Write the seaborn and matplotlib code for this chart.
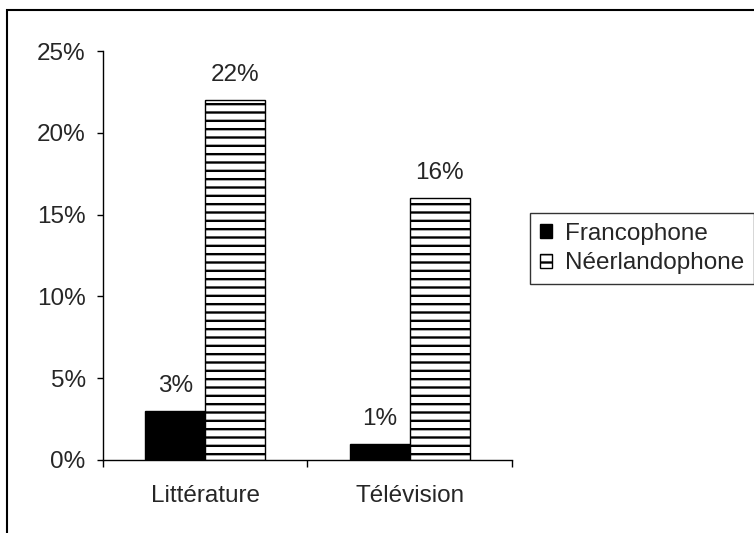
import matplotlib
matplotlib.use("Agg")
import matplotlib.pyplot as plt
import matplotlib.patches as mpatches
from matplotlib.ticker import PercentFormatter, FixedLocator
import pandas as pd
import seaborn as sns

categories = ["Littérature", "Télévision"]
groups = ["Francophone", "Néerlandophone"]
francophone = [3, 1]
neerlandophone = [22, 16]

df = pd.DataFrame({
    "categorie": categories * 2,
    "groupe": [groups[0]] * 2 + [groups[1]] * 2,
    "valeur": francophone + neerlandophone,
})

FS = 17.5

sns.set_theme(style="ticks")
plt.rcParams["font.family"] = ["Liberation Sans", "DejaVu Sans"]
plt.rcParams["hatch.linewidth"] = 1.7
plt.rcParams["hatch.color"] = "#333333"

fig = plt.figure(figsize=(7.54, 5.33), dpi=100)
ax = fig.add_axes([0.1366, 0.137, 0.679 - 0.1366, 0.904 - 0.137])

sns.barplot(data=df, x="categorie", y="valeur", hue="groupe", ax=ax,
            palette=["black", "white"], edgecolor="black", linewidth=1,
            width=0.585, saturation=1, legend=False)

hatches = ["", "--"]
for cont, h in zip(ax.containers, hatches):
    for p in cont:
        p.set_hatch(h)
        p.set_edgecolor("black")
    ax.bar_label(cont, labels=[f"{v:.0f}%" for v in cont.datavalues],
                 padding=10, fontsize=FS)

ax.set_ylim(0, 25)
ax.set_xlim(-0.5, 1.5)
ax.set_yticks([0, 5, 10, 15, 20, 25])
ax.yaxis.set_major_formatter(PercentFormatter(100, decimals=0))
ax.tick_params(axis="y", length=4.5, width=1, color="black", labelsize=FS, pad=8)
ax.xaxis.set_minor_locator(FixedLocator([-0.5, 0.5, 1.5]))
ax.tick_params(axis="x", which="major", length=0, labelsize=FS, pad=18)
ax.tick_params(axis="x", which="minor", length=5, width=1, color="black")
ax.set_xlabel("")
ax.set_ylabel("")
for s in ["top", "right"]:
    ax.spines[s].set_visible(False)
for s in ["left", "bottom"]:
    ax.spines[s].set_color("black")
    ax.spines[s].set_linewidth(1)

handles = [mpatches.Patch(facecolor="black", edgecolor="black", label=groups[0]),
           mpatches.Patch(facecolor="white", edgecolor="black", hatch="--", label=groups[1])]
leg = fig.legend(handles=handles, loc="upper left", bbox_to_anchor=(0.703, 0.600),
                 frameon=True, fancybox=False, fontsize=FS, handlelength=0.5,
                 handleheight=0.5, handletextpad=0.55, borderaxespad=0, borderpad=0.4,
                 labelspacing=0.3)
leg.get_frame().set_edgecolor("black")
leg.get_frame().set_linewidth(1)

border = mpatches.Rectangle((7 / 754, -0.1), 1.2, 1.0 - 10 / 533 + 0.1,
                            transform=fig.transFigure, fill=False,
                            edgecolor="black", linewidth=1.5, clip_on=False)
fig.patches.append(border)

fig.savefig("out.png", dpi=100)
